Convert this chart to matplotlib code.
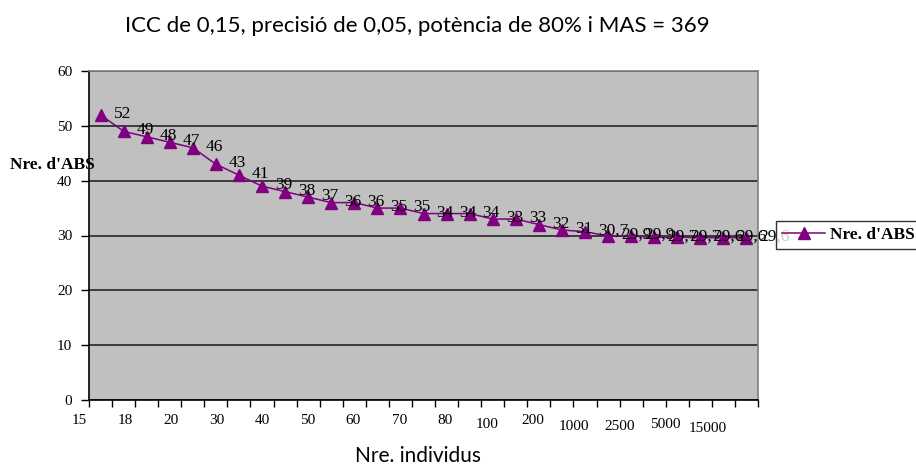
import numpy as np
import matplotlib
matplotlib.use("Agg")
import matplotlib.pyplot as plt

# Mida mostral necessària segons el nombre d'individus per ABS
etiquetes_individus = ['15', '18', '20', '30', '40', '50', '60', '70', '80',
                       '100', '200', '1000', '2500', '5000', '15000']
nre_abs = [52, 49, 48, 47, 46, 43, 41, 39, 38, 37, 36, 36, 35, 35, 34, 34, 34,
           33, 33, 32, 31, 30.7, 29.9, 29.9, 29.7, 29.7, 29.6, 29.6, 29.6]

titol = "ICC de 0,15, precisió de 0,05, potència de 80% i MAS = 369"

SERIF = ['Liberation Serif', 'DejaVu Serif']
SANS = ['Lato', 'DejaVu Sans']
PORPRA = '#800080'

W, H = 916, 470
fig = plt.figure(figsize=(W / 100, H / 100), dpi=100)
fig.patch.set_facecolor('white')

# Àrea de dibuix (en píxels)
x0, x1, y0, y1 = 89, 758, 71, 400
ax = fig.add_axes([x0 / W, 1 - y1 / H, (x1 - x0) / W, (y1 - y0) / H])
ax.set_facecolor('#c0c0c0')

n = len(nre_abs)
x = np.arange(n)
ax.plot(x, nre_abs, color=PORPRA, lw=1.1, marker='^', ms=8,
        markerfacecolor=PORPRA, markeredgecolor=PORPRA, label="Nre. d'ABS",
        zorder=3)


def format_valor(v):
    if float(v).is_integer():
        return str(int(v))
    return f"{v:.1f}".replace('.', ',')


for xi, v in zip(x, nre_abs):
    ax.annotate(format_valor(v), (xi, v), xytext=(13, 1),
                textcoords='offset pixels', ha='left', va='center',
                fontsize=12.5, family=SERIF, color='black', zorder=4,
                annotation_clip=False)

ax.set_xlim(-0.5, n - 0.5)
ax.set_ylim(0, 60)
ax.set_yticks(np.arange(0, 61, 10))
ax.set_yticklabels([str(v) for v in range(0, 61, 10)], family=SERIF,
                   fontsize=11)
ax.yaxis.grid(True, color='#303030', lw=1.3)
ax.set_axisbelow(True)

# Marques a les fronteres de categoria, etiquetes cada dues categories
ax.set_xticks(np.arange(n + 1) - 0.5)
ax.set_xticklabels([])
ax.tick_params(axis='x', direction='out', length=5, width=1, color='black')
ax.tick_params(axis='y', direction='out', length=6, width=1, color='black',
               pad=6)

pas = 1.981
descens = [0, 0, 0, 0, 0, 0, 0, 0, 0, 4, 0, 6, 5, 4, 7]
for k, (txt, d) in enumerate(zip(etiquetes_individus, descens)):
    ax.annotate(txt, (k * pas - 0.59, 0), xycoords=('data', 'axes fraction'),
                xytext=(0, -21 - d), textcoords='offset pixels',
                ha='right', va='center', fontsize=11, family=SERIF,
                annotation_clip=False)

for s in ['left', 'bottom']:
    ax.spines[s].set_color('black')
    ax.spines[s].set_linewidth(1.2)
for s in ['top', 'right']:
    ax.spines[s].set_color('#808080')
    ax.spines[s].set_linewidth(1.2)

fig.text(417 / W, 1 - 26 / H, titol, ha='center', va='center',
         fontsize=16, family=SANS)
fig.text(418 / W, 1 - 456 / H, 'Nre. individus', ha='center', va='center',
         fontsize=15, family=SANS)
fig.text(52 / W, 1 - 165 / H, "Nre. d'ABS", ha='center', va='center',
         fontsize=12.5, family=SERIF, weight='bold')

leg = fig.legend(loc='center left', bbox_to_anchor=(776 / W, 1 - 235 / H),
                 prop={'family': SERIF, 'weight': 'bold', 'size': 12.5},
                 frameon=True, fancybox=False, borderpad=0.35,
                 handlelength=2.5, handletextpad=0.25, borderaxespad=0)
leg.get_frame().set_edgecolor('black')
leg.get_frame().set_linewidth(1.0)

fig.savefig('out.png', dpi=100)
